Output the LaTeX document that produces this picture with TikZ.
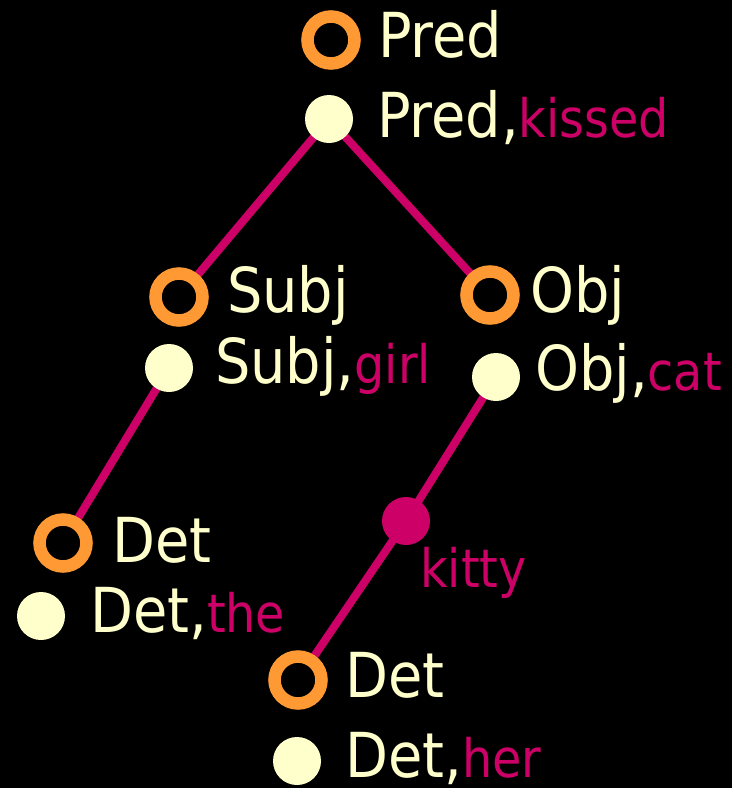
\documentclass[tikz,border=0pt]{standalone}
\usepackage{fontspec}
\setmainfont{DejaVu Sans Condensed}
\usetikzlibrary{backgrounds}
\definecolor{cream}{HTML}{FFFFCC}
\definecolor{orng}{HTML}{FF9933}
\definecolor{mag}{HTML}{CC0066}
\pgfdeclarelayer{edges}
\pgfsetlayers{background,edges,main}
\newcommand{\mw}[1]{{\color{mag}\fontsize{53}{60}\selectfont #1}}
\tikzset{
  ring/.style={circle, draw=orng, line width=12.5pt, fill=black, inner sep=0pt, minimum size=47pt},
  dot/.style={circle, fill=cream, inner sep=0pt, minimum size=48pt},
  mdot/.style={circle, fill=mag, inner sep=0pt, minimum size=48pt},
  lbl/.style={anchor=base west, inner sep=0pt, text=cream, font=\fontsize{62}{70}\selectfont},
  mlbl/.style={anchor=base west, inner sep=0pt, text=mag, font=\fontsize{53}{60}\selectfont},
  link/.style={draw=mag, line width=8pt}
}
\begin{document}
\begin{tikzpicture}[x=1pt,y=-1pt]
\begin{pgfonlayer}{background}
\fill[black] (0,0) rectangle (732,788);
\end{pgfonlayer}
\useasboundingbox (0,0) rectangle (732,788);
% Pred
\node[ring] (predring) at (331,40) {};
\node[lbl] (predt) at (378,57) {Pred};
\node[dot] (preddot) at (329,119) {};
\node[lbl] (predlex) at (377,137) {Pred,\mw{kissed}};
% Subj
\node[ring] (subjring) at (179,297) {};
\node[lbl] (subjt) at (227,312) {Subj};
\node[dot] (subjdot) at (169,368) {};
\node[lbl] (subjlex) at (215,383) {Subj,\mw{girl}};
% Obj
\node[ring] (objring) at (490,295) {};
\node[lbl] (objt) at (530,312) {Obj};
\node[dot] (objdot) at (496,377) {};
\node[lbl] (objlex) at (535,390) {Obj,\mw{cat}};
% Det left
\node[ring] (detring1) at (63,543) {};
\node[lbl] (dett1) at (112,562) {Det};
\node[dot] (detdot1) at (41,616) {};
\node[lbl] (detlex1) at (90,632) {Det,\mw{the}};
% kitty
\node[mdot] (kitty) at (406,521) {};
\node[mlbl] (kittyt) at (420,587) {kitty};
% Det right
\node[ring] (detring2) at (298,680) {};
\node[lbl] (dett2) at (345,697) {Det};
\node[dot] (detdot2) at (297,761) {};
\node[lbl] (detlex2) at (345,777) {Det,\mw{her}};
\begin{pgfonlayer}{edges}
\draw[link] (preddot.center) -- (subjring.center);
\draw[link] (preddot.center) -- (objring.center);
\draw[link] (subjdot.center) -- (detring1.center);
\draw[link] (objdot.center) -- (kitty.center) -- (detring2.center);
\end{pgfonlayer}
\end{tikzpicture}
\end{document}
